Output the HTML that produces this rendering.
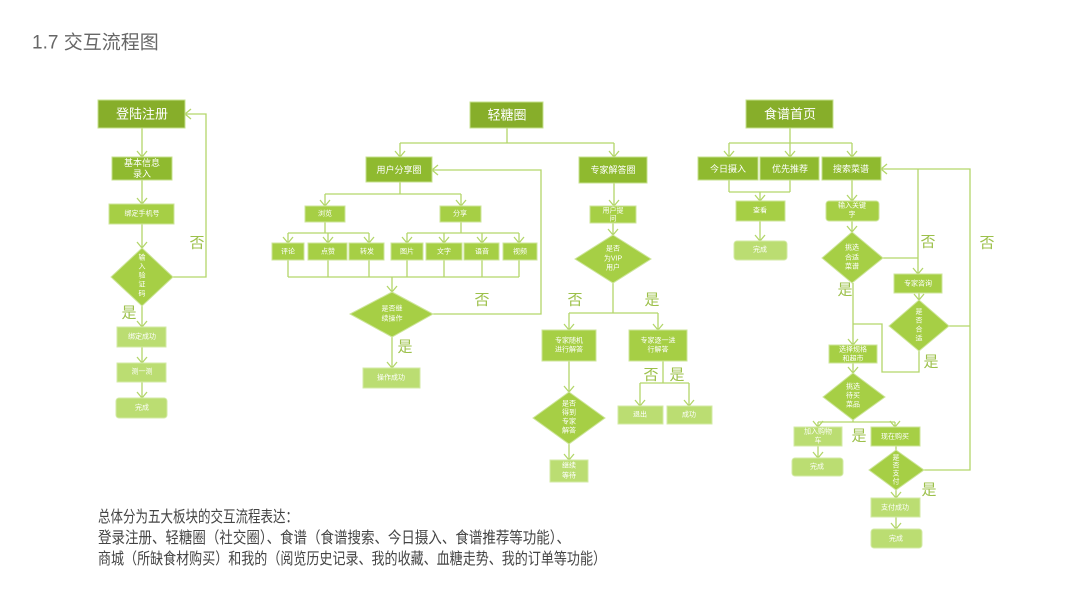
<!DOCTYPE html>
<html><head><meta charset="utf-8"><style>
html,body{margin:0;padding:0;background:#fff;}
svg{display:block;font-family:"Liberation Sans","Noto Sans CJK SC",sans-serif;}
</style></head><body>
<svg width="1067" height="600" viewBox="0 0 1067 600" xmlns="http://www.w3.org/2000/svg">
<defs>
<marker id="a" markerWidth="10" markerHeight="10" refX="5" refY="8" orient="auto" markerUnits="userSpaceOnUse" viewBox="0 0 10 10">
</marker>
</defs>
<style>
.l{fill:none;stroke:#b3d66a;stroke-width:1.3}
.ah{fill:none;stroke:#b3d66a;stroke-width:1.3}
.d1{fill:#87ae2a;stroke:#c6e08c;stroke-width:1}
.d2{fill:#8fba2f;stroke:#c6e08c;stroke-width:1}
.m{fill:#a6cf45;stroke:#cde59a;stroke-width:1}
.lt{fill:#bbdd72;stroke:#d3eaa6;stroke-width:1}
.t{fill:#fff;text-anchor:middle;dominant-baseline:central}
.y{fill:#9cc04a;font-size:15px;text-anchor:middle;dominant-baseline:central}
</style>

<text x="32" y="43" font-size="19" fill="#666" dominant-baseline="central">1.7 交互流程图</text>

<!-- ===== LEFT ===== -->
<g>
<path class="l" d="M142 128V157 M142 180V204 M142 224V248 M142 306V327 M142 347V363 M142 382V398 M173 277H206V114H185"/>
<path class="ah" d="M137 151l5 6 5-6 M137 198l5 6 5-6 M137 242l5 6 5-6 M137 321l5 6 5-6 M137 357l5 6 5-6 M137 392l5 6 5-6 M191 109l-6 5 6 5"/>
<rect class="d1" x="98" y="100" width="87" height="28"/>
<text class="t" x="142" y="114" font-size="13">登陆注册</text>
<rect class="d2" x="112" y="157" width="60" height="23"/>
<text class="t" x="142" y="163" font-size="9">基本信息</text><text class="t" x="142" y="174" font-size="9">录入</text>
<rect class="m" x="109" y="204" width="65" height="20"/>
<text class="t" x="142" y="214" font-size="7">绑定手机号</text>
<polygon class="m" points="142,248 173,277 142,306 111,277"/>
<text class="t" x="142" y="258" font-size="7">输</text><text class="t" x="142" y="267" font-size="7">入</text><text class="t" x="142" y="276" font-size="7">验</text><text class="t" x="142" y="285" font-size="7">证</text><text class="t" x="142" y="294" font-size="7">码</text>
<text class="y" x="197" y="243">否</text>
<text class="y" x="129" y="313">是</text>
<rect class="lt" x="117" y="327" width="49" height="20"/>
<text class="t" x="142" y="337" font-size="7">绑定成功</text>
<rect class="lt" x="117" y="363" width="49" height="19"/>
<text class="t" x="142" y="372" font-size="7">测一测</text>
<rect class="lt" x="116" y="398" width="51" height="20" rx="3"/>
<text class="t" x="142" y="408" font-size="7">完成</text>
</g>

<!-- ===== MIDDLE ===== -->
<g>
<path class="l" d="M507 128V143 M400 143H614 M400 143V157 M614 143V157
M400 182V194 M325 194H461 M325 194V206 M461 194V206
M325 222V233 M288 233H369 M288 233V243 M328 233V243 M369 233V243
M461 222V233 M407 233H519 M407 233V243 M444 233V243 M482 233V243 M519 233V243
M288 260V277 M328 260V277 M369 260V277 M407 260V277 M444 260V277 M482 260V277 M519 260V277 M288 277H519 M392 277V292
M433 314H541V170H432
M392 337V368
M614 183V206 M613 223V235 M613 283V313 M569 313H658 M569 313V330 M658 313V330
M569 361V392 M569 444V460
M663 361V383 M640 383H689 M640 383V406 M689 383V406"/>
<path class="ah" d="M395 151l5 6 5-6 M609 151l5 6 5-6 M320 200l5 6 5-6 M456 200l5 6 5-6
M283 237l5 6 5-6 M323 237l5 6 5-6 M364 237l5 6 5-6 M402 237l5 6 5-6 M439 237l5 6 5-6 M477 237l5 6 5-6 M514 237l5 6 5-6
M387 286l5 6 5-6 M438 165l-6 5 6 5 M387 362l5 6 5-6
M609 200l5 6 5-6 M608 229l5 6 5-6 M564 324l5 6 5-6 M653 324l5 6 5-6 M564 386l5 6 5-6 M564 454l5 6 5-6 M635 400l5 6 5-6 M684 400l5 6 5-6"/>
<rect class="d1" x="470" y="102" width="73" height="26"/>
<text class="t" x="507" y="115" font-size="13">轻糖圈</text>
<rect class="d2" x="366" y="157" width="66" height="25"/>
<text class="t" x="399" y="170" font-size="9">用户分享圈</text>
<rect class="d2" x="579" y="157" width="68" height="26"/>
<text class="t" x="613" y="170" font-size="9">专家解答圈</text>
<rect class="m" x="305" y="206" width="40" height="16"/><text class="t" x="325" y="214" font-size="7">浏览</text>
<rect class="m" x="440" y="206" width="41" height="16"/><text class="t" x="460" y="214" font-size="7">分享</text>
<rect class="m" x="272" y="243" width="32" height="17"/><text class="t" x="288" y="252" font-size="7">评论</text>
<rect class="m" x="308" y="243" width="39" height="17"/><text class="t" x="328" y="252" font-size="7">点赞</text>
<rect class="m" x="349" y="243" width="35" height="17"/><text class="t" x="367" y="252" font-size="7">转发</text>
<rect class="m" x="391" y="243" width="32" height="17"/><text class="t" x="407" y="252" font-size="7">图片</text>
<rect class="m" x="426" y="243" width="36" height="17"/><text class="t" x="444" y="252" font-size="7">文字</text>
<rect class="m" x="464" y="243" width="35" height="17"/><text class="t" x="482" y="252" font-size="7">语音</text>
<rect class="m" x="503" y="243" width="34" height="17"/><text class="t" x="520" y="252" font-size="7">视频</text>
<polygon class="m" points="392,292 433,314 392,337 350,314"/>
<text class="t" x="392" y="309" font-size="7">是否继</text><text class="t" x="392" y="319" font-size="7">续操作</text>
<text class="y" x="482" y="300">否</text>
<text class="y" x="405" y="347">是</text>
<rect class="lt" x="363" y="368" width="57" height="20"/><text class="t" x="391" y="378" font-size="7">操作成功</text>
<rect class="m" x="590" y="206" width="46" height="17"/>
<text class="t" x="613" y="211" font-size="7">用户提</text><text class="t" x="613" y="219" font-size="7">问</text>
<polygon class="m" points="613,235 651,259 613,283 575,259"/>
<text class="t" x="613" y="249" font-size="7">是否</text><text class="t" x="613" y="259" font-size="7">为VIP</text><text class="t" x="613" y="268" font-size="7">用户</text>
<text class="y" x="575" y="300">否</text>
<text class="y" x="652" y="300">是</text>
<rect class="m" x="542" y="330" width="54" height="31"/>
<text class="t" x="569" y="341" font-size="7">专家随机</text><text class="t" x="569" y="350" font-size="7">进行解答</text>
<rect class="m" x="629" y="330" width="58" height="31"/>
<text class="t" x="658" y="341" font-size="7">专家逐一进</text><text class="t" x="658" y="350" font-size="7">行解答</text>
<text class="y" x="651" y="375">否</text>
<text class="y" x="677" y="375">是</text>
<polygon class="m" points="569,392 605,418 569,444 533,418"/>
<text class="t" x="569" y="404" font-size="7">是否</text><text class="t" x="569" y="413" font-size="7">得到</text><text class="t" x="569" y="422" font-size="7">专家</text><text class="t" x="569" y="431" font-size="7">解答</text>
<rect class="lt" x="550" y="460" width="38" height="22"/>
<text class="t" x="569" y="466" font-size="7">继续</text><text class="t" x="569" y="476" font-size="7">等待</text>
<rect class="lt" x="618" y="406" width="45" height="18"/><text class="t" x="640" y="415" font-size="7">退出</text>
<rect class="lt" x="667" y="406" width="45" height="18"/><text class="t" x="689" y="415" font-size="7">成功</text>
</g>

<!-- ===== RIGHT ===== -->
<g>
<path class="l" d="M790 128V143 M729 143H852 M729 143V157 M790 143V157 M852 143V157
M729 180V192 M790 180V192 M729 192H790 M760 192V201 M760 221V241
M852 180V201 M852 221V232
M883 258H918 M918 169V274 M881 169H970V470H924
M919 293V300 M949 326H970
M919 351V372H882V324H853 M853 283V345
M853 363V373 M853 420V422 M818 422H895 M818 422V427 M895 422V427
M818 446V458 M896 446V450 M896 490V498 M896 517V529"/>
<path class="ah" d="M724 151l5 6 5-6 M785 151l5 6 5-6 M847 151l5 6 5-6 M755 195l5 6 5-6 M755 235l5 6 5-6 M847 195l5 6 5-6 M847 226l5 6 5-6
M913 268l5 6 5-6 M887 164l-6 5 6 5 M914 294l5 6 5-6 M848 339l5 6 5-6 M848 367l5 6 5-6
M813 421l5 6 5-6 M890 421l5 6 5-6 M813 452l5 6 5-6 M891 492l5 6 5-6 M891 523l5 6 5-6"/>
<rect class="d1" x="746" y="100" width="87" height="28"/>
<text class="t" x="790" y="114" font-size="13">食谱首页</text>
<rect class="d2" x="698" y="157" width="60" height="23"/><text class="t" x="728" y="169" font-size="9">今日摄入</text>
<rect class="d2" x="760" y="157" width="59" height="23"/><text class="t" x="790" y="169" font-size="9">优先推荐</text>
<rect class="d2" x="822" y="157" width="59" height="23"/><text class="t" x="851" y="169" font-size="9">搜索菜谱</text>
<rect class="m" x="736" y="201" width="49" height="20"/><text class="t" x="760" y="211" font-size="7">查看</text>
<rect class="lt" x="734" y="241" width="53" height="19" rx="3"/><text class="t" x="760" y="250" font-size="7">完成</text>
<rect class="m" x="826" y="201" width="53" height="20" rx="3"/>
<text class="t" x="852" y="206" font-size="7">输入关键</text><text class="t" x="852" y="215" font-size="7">字</text>
<polygon class="m" points="852,232 883,258 852,283 822,258"/>
<text class="t" x="852" y="248" font-size="7">挑选</text><text class="t" x="852" y="258" font-size="7">合适</text><text class="t" x="852" y="267" font-size="7">菜谱</text>
<text class="y" x="928" y="242">否</text>
<text class="y" x="987" y="243">否</text>
<text class="y" x="845" y="290">是</text>
<rect class="m" x="894" y="274" width="48" height="19"/><text class="t" x="918" y="284" font-size="7">专家咨询</text>
<polygon class="m" points="919,300 949,326 919,351 889,326"/>
<text class="t" x="919" y="312" font-size="7">是</text><text class="t" x="919" y="321" font-size="7">否</text><text class="t" x="919" y="330" font-size="7">合</text><text class="t" x="919" y="339" font-size="7">适</text>
<text class="y" x="931" y="362">是</text>
<rect class="m" x="829" y="345" width="48" height="18"/>
<text class="t" x="853" y="350" font-size="7">选择规格</text><text class="t" x="853" y="359" font-size="7">和超市</text>
<polygon class="m" points="853,373 885,397 853,420 823,397"/>
<text class="t" x="853" y="387" font-size="7">挑选</text><text class="t" x="853" y="396" font-size="7">待买</text><text class="t" x="853" y="405" font-size="7">菜品</text>
<rect class="lt" x="794" y="427" width="48" height="19"/>
<text class="t" x="818" y="432" font-size="7">加入购物</text><text class="t" x="818" y="441" font-size="7">车</text>
<text class="y" x="859" y="436">是</text>
<rect class="m" x="871" y="427" width="49" height="19"/><text class="t" x="895" y="437" font-size="7">现在购买</text>
<rect class="lt" x="792" y="458" width="51" height="18" rx="3"/><text class="t" x="817" y="467" font-size="7">完成</text>
<polygon class="m" points="896,450 924,470 896,490 869,470"/>
<text class="t" x="896" y="458" font-size="7">是</text><text class="t" x="896" y="466" font-size="7">否</text><text class="t" x="896" y="474" font-size="7">支</text><text class="t" x="896" y="482" font-size="7">付</text>
<text class="y" x="929" y="490">是</text>
<rect class="lt" x="871" y="498" width="49" height="19"/><text class="t" x="895" y="508" font-size="7">支付成功</text>
<rect class="lt" x="871" y="529" width="51" height="19" rx="3"/><text class="t" x="896" y="539" font-size="7">完成</text>
</g>

<!-- bottom text -->
<g font-size="16" fill="#444">
<text x="98" y="522" textLength="200" lengthAdjust="spacingAndGlyphs">总体分为五大板块的交互流程表达：</text>
<text x="98" y="543" textLength="472" lengthAdjust="spacingAndGlyphs">登录注册、轻糖圈（社交圈）、食谱（食谱搜索、今日摄入、食谱推荐等功能）、</text>
<text x="98" y="564" textLength="508" lengthAdjust="spacingAndGlyphs">商城（所缺食材购买）和我的（阅览历史记录、我的收藏、血糖走势、我的订单等功能）</text>
</g>
</svg>
</body></html>
